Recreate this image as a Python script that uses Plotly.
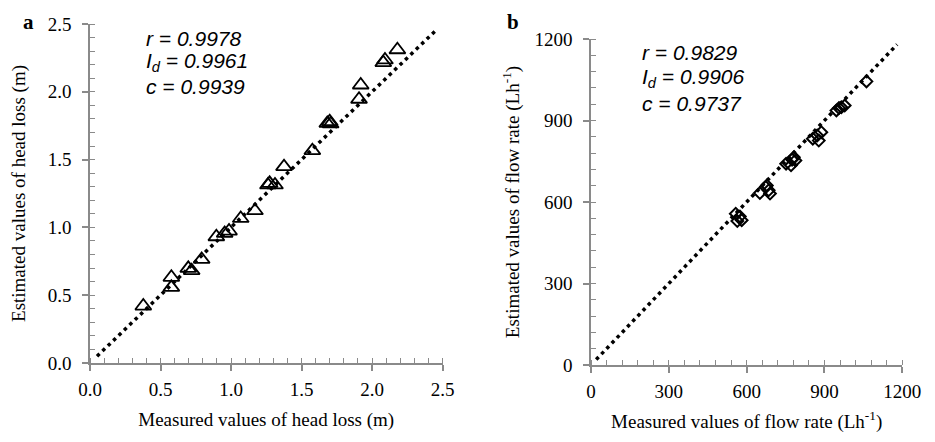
import plotly.graph_objects as go

# ---------------- data ----------------
# Panel a: head loss (m)
head_measured = [0.378, 0.577, 0.577, 0.697, 0.721, 0.792, 0.896, 0.955, 0.986,
                 1.069, 1.170, 1.262, 1.274, 1.312, 1.376, 1.577, 1.683, 1.700,
                 1.707, 1.908, 1.920, 2.080, 2.092, 2.180]
head_estimated = [0.420, 0.632, 0.558, 0.698, 0.681, 0.764, 0.931, 0.956, 0.973,
                  1.066, 1.123, 1.313, 1.325, 1.313, 1.448, 1.566, 1.767, 1.780,
                  1.763, 1.945, 2.050, 2.215, 2.235, 2.310]
head_line = [0.05, 2.45]

# Panel b: flow rate (L/h)
flow_measured = [558, 574, 564, 581, 651, 674, 685, 690, 678,
                 752, 775, 782, 771, 788, 855, 872, 888, 878,
                 946, 965, 978, 956, 1062]
flow_estimated = [557, 547, 530, 533, 633, 655, 643, 631, 661,
                  741, 756, 765, 735, 753, 833, 845, 857, 826,
                  937, 949, 955, 946, 1044]
flow_line = [20, 1180]

stats_a = ["<i>r</i> = <i>0.9978</i>", "<i>I<sub>d</sub></i> = <i>0.9961</i>", "<i>c</i> = <i>0.9939</i>"]
stats_b = ["<i>r</i> = <i>0.9829</i>", "<i>I<sub>d</sub></i> = <i>0.9906</i>", "<i>c</i> = <i>0.9737</i>"]

# page body has an 8px default margin -> figure is placed at (8, 8)
OFF = 8
W, H = 935 - OFF, 442 - OFF
SERIF = "Liberation Serif"
AX = "#8a8a8a"

def px(x):
    return (x - OFF) / W

def py(y):
    return 1 - (y - OFF) / H

fig = go.Figure()

# 1:1 dotted lines
for xs, xa_, ya_ in [(head_line, "x", "y"), (flow_line, "x2", "y2")]:
    fig.add_trace(go.Scatter(x=xs, y=xs, mode="lines",
                             line=dict(color="black", width=3.5, dash="3.5px,4px"),
                             xaxis=xa_, yaxis=ya_, showlegend=False, hoverinfo="skip"))

# markers
fig.add_trace(go.Scatter(x=head_measured, y=head_estimated, mode="markers",
                         marker=dict(symbol="triangle-up-open", size=14, color="black",
                                     line=dict(width=1.8, color="black")),
                         xaxis="x", yaxis="y", showlegend=False))
fig.add_trace(go.Scatter(x=flow_measured, y=flow_estimated, mode="markers",
                         marker=dict(symbol="diamond-open", size=9, color="black",
                                     line=dict(width=2, color="black")),
                         xaxis="x2", yaxis="y2", showlegend=False))

def axis(domain, rng, dtick, minor_dtick, title, anchor, standoff, lblstand, fmt=None):
    d = dict(domain=domain, range=rng, dtick=dtick, tick0=0, automargin=False,
             showgrid=False, zeroline=False, showline=True, linecolor=AX, linewidth=1.5,
             ticks="outside", ticklen=6, tickwidth=1.5, tickcolor=AX,
             minor=dict(dtick=minor_dtick, tick0=0, ticks="inside", ticklen=5,
                        tickwidth=1.2, tickcolor=AX, showgrid=False),
             tickfont=dict(family=SERIF, size=19, color="black"),
             ticklabelstandoff=lblstand,
             title=dict(text=title, standoff=standoff,
                        font=dict(family=SERIF, size=19, color="black")),
             anchor=anchor, fixedrange=True)
    if fmt:
        d["tickformat"] = fmt
    return d

xa = axis([px(90), px(442.5)], [0, 2.5], 0.5, 0.1, "Measured values of head loss (m)", "y", 14, 2, ".1f")
ya = axis([py(363), py(24)], [0, 2.5], 0.5, 0.1, "Estimated values of head loss (m)", "x", 18, 7, ".1f")
xb = axis([px(591), px(902.3)], [0, 1200], 300, 60, "Measured values of flow rate (Lh<sup>-1</sup>)", "y2", 14, 2)
yb = axis([py(365), py(39)], [0, 1200], 300, 60, "Estimated values of flow rate (Lh<sup>-1</sup>)", "x2", 10, 7)

annotations = []
for i, t in enumerate(stats_a):
    annotations.append(dict(text=t, xref="paper", yref="paper", x=px(144), y=py(38 + 24.5 * i),
                            xanchor="left", yanchor="middle", showarrow=False,
                            font=dict(family="Liberation Sans", size=21, color="black", style="italic")))
for i, t in enumerate(stats_b):
    annotations.append(dict(text=t, xref="paper", yref="paper", x=px(640), y=py(52 + 25.5 * i),
                            xanchor="left", yanchor="middle", showarrow=False,
                            font=dict(family="Liberation Sans", size=21, color="black", style="italic")))
annotations.append(dict(text="<b>a</b>", xref="paper", yref="paper", x=px(28), y=1,
                        xanchor="center", yanchor="top", showarrow=False,
                        font=dict(family=SERIF, size=21, color="black")))
annotations.append(dict(text="<b>b</b>", xref="paper", yref="paper", x=px(513), y=1,
                        xanchor="center", yanchor="top", showarrow=False,
                        font=dict(family=SERIF, size=21, color="black")))

fig.update_layout(
    width=W, height=H,
    margin=dict(l=0, r=0, t=0, b=0),
    paper_bgcolor="white", plot_bgcolor="white",
    xaxis=xa, yaxis=ya, xaxis2=xb, yaxis2=yb,
    annotations=annotations,
    showlegend=False,
)

fig.write_html("out.html", config={"displayModeBar": False})
